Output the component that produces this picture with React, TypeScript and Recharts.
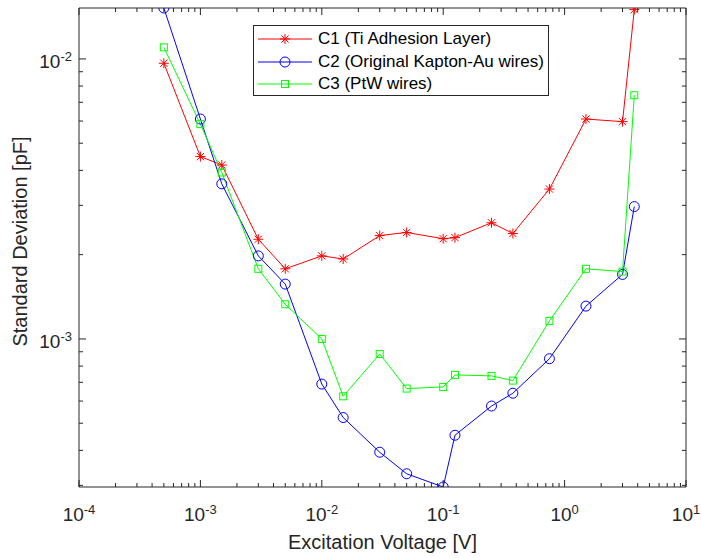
import { LineChart, Line, XAxis, YAxis, Legend } from 'recharts';

// excitation voltage [V]
const voltages = [5e-4, 1e-3, 1.5e-3, 3e-3, 5e-3, 1e-2, 1.5e-2, 3e-2, 5e-2, 0.1, 0.125, 0.25, 0.375, 0.75, 1.5, 3, 3.75];

// standard deviation [pF]
const c1Values = [9.65e-3, 4.48e-3, 4.18e-3, 2.27e-3, 1.78e-3, 1.98e-3, 1.93e-3, 2.34e-3, 2.4e-3, 2.28e-3, 2.3e-3, 2.6e-3, 2.38e-3, 3.43e-3, 6.1e-3, 5.97e-3, 1.5e-2];
const c2Values = [1.52e-2, 6.1e-3, 3.58e-3, 1.98e-3, 1.57e-3, 6.9e-4, 5.24e-4, 3.94e-4, 3.3e-4, 2.96e-4, 4.53e-4, 5.76e-4, 6.4e-4, 8.5e-4, 1.31e-3, 1.7e-3, 2.97e-3];
const c3Values = [1.1e-2, 5.85e-3, 3.93e-3, 1.78e-3, 1.33e-3, 1.0e-3, 6.24e-4, 8.84e-4, 6.65e-4, 6.74e-4, 7.44e-4, 7.38e-4, 7.1e-4, 1.16e-3, 1.78e-3, 1.74e-3, 7.42e-3];

const seriesNames = ['C1 (Ti Adhesion Layer)', 'C2 (Original Kapton-Au wires)', 'C3 (PtW wires)'];

const xDecades = [1e-4, 1e-3, 1e-2, 1e-1, 1, 10];
const yDecades = [1e-4, 1e-3, 1e-2];
const minorSteps = [2, 3, 4, 5, 6, 7, 8, 9];

const X_DOMAIN: [number, number] = [1e-4, 10];
const Y_DOMAIN: [number, number] = [2.96e-4, 1.52e-2];

const AX = '#262626';
const FONT = '"Liberation Sans", Arial, Helvetica, sans-serif';

const withMinor = (decades: number[], domain: [number, number]) => {
  const out: number[] = [];
  decades.forEach((d) => {
    out.push(d);
    minorSteps.forEach((m) => out.push(d * m));
  });
  return out.filter((v) => v >= domain[0] * 0.9999 && v <= domain[1] * 1.0001).sort((a, b) => a - b);
};

const xTicks = withMinor(xDecades, X_DOMAIN);
const yTicks = withMinor(yDecades, Y_DOMAIN);

const isMajor = (v: number) => Math.abs(Math.log10(v) - Math.round(Math.log10(v))) < 1e-6;
const expOf = (v: number) => String(Math.round(Math.log10(v)));

const rows = voltages.map((v, i) => ({ v, c1: c1Values[i], c2: c2Values[i], c3: c3Values[i] }));

const series = [
  { key: 'c1', name: seriesNames[0], color: '#ff0000', marker: 'star' },
  { key: 'c2', name: seriesNames[1], color: '#0000ff', marker: 'circle' },
  { key: 'c3', name: seriesNames[2], color: '#00ff00', marker: 'square' },
];

function Marker({ kind, cx, cy, color }: { kind: string; cx: number; cy: number; color: string }) {
  if (kind === 'star') {
    const r = 5;
    const d = 3.6;
    return (
      <g stroke={color} strokeWidth={1} fill="none">
        <line x1={cx - r} y1={cy} x2={cx + r} y2={cy} />
        <line x1={cx} y1={cy - r} x2={cx} y2={cy + r} />
        <line x1={cx - d} y1={cy - d} x2={cx + d} y2={cy + d} />
        <line x1={cx - d} y1={cy + d} x2={cx + d} y2={cy - d} />
      </g>
    );
  }
  if (kind === 'circle') {
    return <circle cx={cx} cy={cy} r={5} stroke={color} strokeWidth={1} fill="none" />;
  }
  return <rect x={cx - 3.5} y={cy - 3.5} width={7} height={7} stroke={color} strokeWidth={1} fill="none" />;
}

const makeDot = (kind: string, color: string) => (props: any) => {
  const { cx, cy, index } = props;
  if (cx == null || cy == null) return <g key={`d-${index}`} />;
  return (
    <g key={`d-${kind}-${index}`}>
      <Marker kind={kind} cx={cx} cy={cy} color={color} />
    </g>
  );
};

const PowerLabel = ({ x, y, value, anchor }: { x: number; y: number; value: number; anchor: 'middle' | 'end' }) => (
  <text x={x} y={y} textAnchor={anchor} fill={AX} fontFamily={FONT} fontSize={19}>
    <tspan>10</tspan>
    <tspan dy={-7} fontSize={13}>{expOf(value)}</tspan>
  </text>
);

// ticks point inward, majors longer than minors
const tickLen = (v: number) => (isMajor(v) ? 7 : 4);
const tickPath = (x: number, y: number, dx: number, dy: number) => (
  <path d={`M${x},${y}L${x + dx},${y + dy}`} stroke={AX} strokeWidth={1} fill="none" />
);

const BottomTick = (props: any) => {
  const { x, y, payload } = props;
  return (
    <g>
      {tickPath(Number(x), Number(y), 0, -tickLen(payload.value))}
      {isMajor(payload.value) && <PowerLabel x={x} y={Number(y) + 34} value={payload.value} anchor="middle" />}
    </g>
  );
};

const TopTick = (props: any) => {
  const { x, y, payload } = props;
  return <g>{tickPath(Number(x), Number(y), 0, tickLen(payload.value))}</g>;
};

const LeftTick = (props: any) => {
  const { x, y, payload } = props;
  return (
    <g>
      {tickPath(Number(x), Number(y), tickLen(payload.value), 0)}
      {isMajor(payload.value) && <PowerLabel x={Number(x) - 7} y={Number(y) + 9} value={payload.value} anchor="end" />}
    </g>
  );
};

const RightTick = (props: any) => {
  const { x, y, payload } = props;
  return <g>{tickPath(Number(x), Number(y), -tickLen(payload.value), 0)}</g>;
};

const XTitle = (props: any) => {
  const vb = props.viewBox || { x: 79, y: 487, width: 607, height: 71 };
  return (
    <text x={vb.x + vb.width / 2} y={vb.y + 62} textAnchor="middle" fill={AX} fontFamily={FONT} fontSize={20}>
      Excitation Voltage [V]
    </text>
  );
};

const YTitle = (props: any) => {
  const vb = props.viewBox || { x: 0, y: 8, width: 79, height: 479 };
  const cx = vb.x + 27;
  const cy = vb.y + vb.height / 2 - 6;
  return (
    <text x={cx} y={cy} transform={`rotate(-90, ${cx}, ${cy})`} textAnchor="middle" fill={AX} fontFamily={FONT} fontSize={20}>
      Standard Deviation [pF]
    </text>
  );
};

const LegendBox = () => (
  <div
    style={{
      boxSizing: 'border-box',
      width: 296,
      height: 71,
      border: `1px solid ${AX}`,
      background: '#fff',
      paddingTop: 2,
      fontFamily: FONT,
      fontSize: 17,
      color: '#000',
    }}
  >
    {series.map((s) => (
      <div key={s.key} style={{ display: 'flex', alignItems: 'center', height: 22.5 }}>
        <svg width={64} height={14} style={{ flex: 'none' }}>
          <line x1={4} y1={7} x2={58} y2={7} stroke={s.color} strokeWidth={1} />
          <Marker kind={s.marker} cx={31} cy={7} color={s.color} />
        </svg>
        <span style={{ whiteSpace: 'nowrap' }}>{s.name}</span>
      </div>
    ))}
  </div>
);

export default function App() {
  return (
    <div style={{ position: 'absolute', left: 0, top: 0 }}>
      <LineChart width={701} height={558} data={rows} margin={{ top: 7, right: 14, bottom: 0, left: 0 }}>
        <XAxis
          dataKey="v"
          type="number"
          scale="log"
          domain={X_DOMAIN}
          allowDataOverflow
          ticks={xTicks}
          interval={0}
          height={71}
          tickLine={false}
          tickSize={0}
          tickMargin={0}
          axisLine={{ stroke: AX, strokeWidth: 1 }}
          tick={BottomTick}
          label={XTitle}
        />
        <XAxis
          xAxisId="top"
          orientation="top"
          dataKey="v"
          type="number"
          scale="log"
          domain={X_DOMAIN}
          allowDataOverflow
          ticks={xTicks}
          interval={0}
          height={1}
          tickLine={false}
          tickSize={0}
          tickMargin={0}
          axisLine={{ stroke: AX, strokeWidth: 1 }}
          tick={TopTick}
        />
        <YAxis
          type="number"
          scale="log"
          domain={Y_DOMAIN}
          allowDataOverflow
          ticks={yTicks}
          interval={0}
          width={79}
          tickLine={false}
          tickSize={0}
          tickMargin={0}
          axisLine={{ stroke: AX, strokeWidth: 1 }}
          tick={LeftTick}
          label={YTitle}
        />
        <YAxis
          yAxisId="right"
          orientation="right"
          type="number"
          scale="log"
          domain={Y_DOMAIN}
          allowDataOverflow
          ticks={yTicks}
          interval={0}
          width={1}
          tickLine={false}
          tickSize={0}
          tickMargin={0}
          axisLine={{ stroke: AX, strokeWidth: 1 }}
          tick={RightTick}
        />
        <Legend
          layout="vertical"
          align="center"
          verticalAlign="middle"
          wrapperStyle={{ left: 253, top: 25, width: 296 }}
          content={LegendBox}
        />
        {series.map((s) => (
          <Line
            key={s.key}
            dataKey={s.key}
            name={s.name}
            stroke={s.color}
            strokeWidth={1}
            dot={makeDot(s.marker, s.color)}
            activeDot={false}
            isAnimationActive={false}
          />
        ))}
      </LineChart>
    </div>
  );
}
